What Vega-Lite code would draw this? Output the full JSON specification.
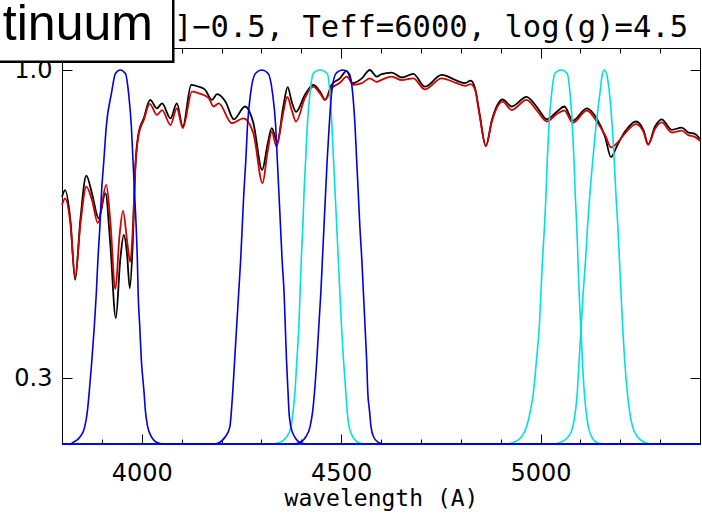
{
  "$schema": "https://vega.github.io/schema/vega-lite/v6.json",
  "autosize": {"type": "none"},
  "width": 638,
  "height": 396,
  "padding": {"left": 62, "top": 48, "right": 2, "bottom": 71},
  "background": "white",
  "config": {
    "view": {"stroke": "#000000", "strokeWidth": 1},
    "axis": {"grid": false, "domain": false, "tickColor": "#000000", "tickWidth": 1, "labelColor": "#000000", "titleColor": "#000000", "labelFont": "DejaVu Sans", "titleFont": "DejaVu Sans Mono", "titleFontWeight": "normal", "labelOverlap": false, "labelFlush": false}
  },
  "datasets": {
    "spec": [
      {"s":"a","wl":3800,"f":0.712},{"s":"a","wl":3808,"f":0.727},{"s":"a","wl":3821,"f":0.659},{"s":"a","wl":3833,"f":0.523},{"s":"a","wl":3846,"f":0.659},{"s":"a","wl":3861,"f":0.760},{"s":"a","wl":3875,"f":0.720},{"s":"a","wl":3892,"f":0.663},{"s":"a","wl":3909,"f":0.720},{"s":"a","wl":3921,"f":0.606},{"s":"a","wl":3935,"f":0.436},{"s":"a","wl":3946,"f":0.568},{"s":"a","wl":3955,"f":0.625},{"s":"a","wl":3963,"f":0.583},{"s":"a","wl":3970,"f":0.504},{"s":"a","wl":3977,"f":0.598},{"s":"a","wl":3984,"f":0.780},{"s":"a","wl":3992,"f":0.856},{"s":"a","wl":4005,"f":0.890},{"s":"a","wl":4021,"f":0.932},{"s":"a","wl":4038,"f":0.913},{"s":"a","wl":4051,"f":0.924},{"s":"a","wl":4072,"f":0.890},{"s":"a","wl":4088,"f":0.924},{"s":"a","wl":4103,"f":0.871},{"s":"a","wl":4124,"f":0.966},{"s":"a","wl":4143,"f":0.962},{"s":"a","wl":4159,"f":0.955},{"s":"a","wl":4176,"f":0.932},{"s":"a","wl":4189,"f":0.945},{"s":"a","wl":4210,"f":0.928},{"s":"a","wl":4231,"f":0.888},{"s":"a","wl":4259,"f":0.917},{"s":"a","wl":4280,"f":0.879},{"s":"a","wl":4302,"f":0.773},{"s":"a","wl":4316,"f":0.833},{"s":"a","wl":4326,"f":0.868},{"s":"a","wl":4340,"f":0.837},{"s":"a","wl":4355,"f":0.917},{"s":"a","wl":4366,"f":0.961},{"s":"a","wl":4376,"f":0.928},{"s":"a","wl":4387,"f":0.905},{"s":"a","wl":4409,"f":0.943},{"s":"a","wl":4430,"f":0.966},{"s":"a","wl":4447,"f":0.951},{"s":"a","wl":4460,"f":0.933},{"s":"a","wl":4476,"f":0.966},{"s":"a","wl":4497,"f":0.981},{"s":"a","wl":4514,"f":0.998},{"s":"a","wl":4529,"f":0.970},{"s":"a","wl":4552,"f":0.981},{"s":"a","wl":4572,"f":1.0},{"s":"a","wl":4589,"f":0.985},{"s":"a","wl":4600,"f":0.990},{"s":"a","wl":4627,"f":0.994},{"s":"a","wl":4652,"f":0.983},{"s":"a","wl":4681,"f":0.991},{"s":"a","wl":4710,"f":0.962},{"s":"a","wl":4752,"f":0.989},{"s":"a","wl":4790,"f":0.976},{"s":"a","wl":4811,"f":0.970},{"s":"a","wl":4825,"f":0.976},{"s":"a","wl":4836,"f":0.958},{"s":"a","wl":4847,"f":0.902},{"s":"a","wl":4863,"f":0.827},{"s":"a","wl":4878,"f":0.886},{"s":"a","wl":4905,"f":0.933},{"s":"a","wl":4928,"f":0.917},{"s":"a","wl":4965,"f":0.939},{"s":"a","wl":4990,"f":0.917},{"s":"a","wl":5016,"f":0.888},{"s":"a","wl":5041,"f":0.905},{"s":"a","wl":5060,"f":0.917},{"s":"a","wl":5081,"f":0.885},{"s":"a","wl":5116,"f":0.913},{"s":"a","wl":5141,"f":0.890},{"s":"a","wl":5162,"f":0.848},{"s":"a","wl":5177,"f":0.802},{"s":"a","wl":5191,"f":0.826},{"s":"a","wl":5212,"f":0.860},{"s":"a","wl":5239,"f":0.883},{"s":"a","wl":5258,"f":0.864},{"s":"a","wl":5270,"f":0.831},{"s":"a","wl":5287,"f":0.871},{"s":"a","wl":5304,"f":0.888},{"s":"a","wl":5329,"f":0.864},{"s":"a","wl":5354,"f":0.869},{"s":"a","wl":5371,"f":0.858},{"s":"a","wl":5387,"f":0.855},{"s":"a","wl":5400,"f":0.843},
      {"s":"b","wl":3800,"f":0.693},{"s":"b","wl":3808,"f":0.708},{"s":"b","wl":3821,"f":0.652},{"s":"b","wl":3833,"f":0.530},{"s":"b","wl":3846,"f":0.648},{"s":"b","wl":3861,"f":0.735},{"s":"b","wl":3875,"f":0.705},{"s":"b","wl":3890,"f":0.652},{"s":"b","wl":3911,"f":0.739},{"s":"b","wl":3921,"f":0.659},{"s":"b","wl":3934,"f":0.502},{"s":"b","wl":3944,"f":0.621},{"s":"b","wl":3953,"f":0.680},{"s":"b","wl":3963,"f":0.614},{"s":"b","wl":3971,"f":0.564},{"s":"b","wl":3977,"f":0.629},{"s":"b","wl":3984,"f":0.780},{"s":"b","wl":3992,"f":0.852},{"s":"b","wl":4005,"f":0.886},{"s":"b","wl":4020,"f":0.923},{"s":"b","wl":4038,"f":0.898},{"s":"b","wl":4051,"f":0.909},{"s":"b","wl":4072,"f":0.875},{"s":"b","wl":4088,"f":0.913},{"s":"b","wl":4103,"f":0.868},{"s":"b","wl":4126,"f":0.951},{"s":"b","wl":4143,"f":0.947},{"s":"b","wl":4168,"f":0.936},{"s":"b","wl":4180,"f":0.917},{"s":"b","wl":4193,"f":0.924},{"s":"b","wl":4226,"f":0.879},{"s":"b","wl":4255,"f":0.890},{"s":"b","wl":4280,"f":0.856},{"s":"b","wl":4303,"f":0.743},{"s":"b","wl":4315,"f":0.811},{"s":"b","wl":4326,"f":0.860},{"s":"b","wl":4338,"f":0.826},{"s":"b","wl":4353,"f":0.894},{"s":"b","wl":4365,"f":0.939},{"s":"b","wl":4376,"f":0.909},{"s":"b","wl":4387,"f":0.883},{"s":"b","wl":4409,"f":0.936},{"s":"b","wl":4430,"f":0.962},{"s":"b","wl":4447,"f":0.947},{"s":"b","wl":4460,"f":0.932},{"s":"b","wl":4476,"f":0.958},{"s":"b","wl":4497,"f":0.971},{"s":"b","wl":4514,"f":0.985},{"s":"b","wl":4531,"f":0.966},{"s":"b","wl":4552,"f":0.970},{"s":"b","wl":4572,"f":0.981},{"s":"b","wl":4589,"f":0.973},{"s":"b","wl":4600,"f":0.977},{"s":"b","wl":4627,"f":0.985},{"s":"b","wl":4652,"f":0.977},{"s":"b","wl":4681,"f":0.981},{"s":"b","wl":4710,"f":0.956},{"s":"b","wl":4752,"f":0.981},{"s":"b","wl":4790,"f":0.970},{"s":"b","wl":4811,"f":0.964},{"s":"b","wl":4825,"f":0.968},{"s":"b","wl":4836,"f":0.955},{"s":"b","wl":4847,"f":0.898},{"s":"b","wl":4863,"f":0.827},{"s":"b","wl":4878,"f":0.883},{"s":"b","wl":4905,"f":0.928},{"s":"b","wl":4928,"f":0.909},{"s":"b","wl":4965,"f":0.932},{"s":"b","wl":4990,"f":0.909},{"s":"b","wl":5016,"f":0.883},{"s":"b","wl":5041,"f":0.900},{"s":"b","wl":5060,"f":0.908},{"s":"b","wl":5081,"f":0.880},{"s":"b","wl":5116,"f":0.908},{"s":"b","wl":5141,"f":0.883},{"s":"b","wl":5162,"f":0.852},{"s":"b","wl":5177,"f":0.824},{"s":"b","wl":5191,"f":0.833},{"s":"b","wl":5212,"f":0.856},{"s":"b","wl":5239,"f":0.877},{"s":"b","wl":5258,"f":0.860},{"s":"b","wl":5270,"f":0.830},{"s":"b","wl":5287,"f":0.866},{"s":"b","wl":5304,"f":0.881},{"s":"b","wl":5329,"f":0.858},{"s":"b","wl":5354,"f":0.862},{"s":"b","wl":5371,"f":0.852},{"s":"b","wl":5387,"f":0.848},{"s":"b","wl":5400,"f":0.839}
    ],
    "filt": [
      {"b":"b1","k":"blue","wl":3800,"t":0.15},{"b":"b1","k":"blue","wl":3822,"t":0.15},{"b":"b1","k":"blue","wl":3825,"t":0.152},{"b":"b1","k":"blue","wl":3846,"t":0.167},{"b":"b1","k":"blue","wl":3857,"t":0.189},{"b":"b1","k":"blue","wl":3864,"t":0.227},{"b":"b1","k":"blue","wl":3868,"t":0.265},{"b":"b1","k":"blue","wl":3875,"t":0.341},{"b":"b1","k":"blue","wl":3881,"t":0.417},{"b":"b1","k":"blue","wl":3886,"t":0.492},{"b":"b1","k":"blue","wl":3890,"t":0.568},{"b":"b1","k":"blue","wl":3895,"t":0.644},{"b":"b1","k":"blue","wl":3899,"t":0.720},{"b":"b1","k":"blue","wl":3905,"t":0.795},{"b":"b1","k":"blue","wl":3911,"t":0.871},{"b":"b1","k":"blue","wl":3924,"t":0.947},{"b":"b1","k":"blue","wl":3934,"t":0.992},{"b":"b1","k":"blue","wl":3946,"t":1.0},{"b":"b1","k":"blue","wl":3959,"t":0.992},{"b":"b1","k":"blue","wl":3967,"t":0.947},{"b":"b1","k":"blue","wl":3974,"t":0.871},{"b":"b1","k":"blue","wl":3978,"t":0.795},{"b":"b1","k":"blue","wl":3982,"t":0.720},{"b":"b1","k":"blue","wl":3986,"t":0.644},{"b":"b1","k":"blue","wl":3989,"t":0.568},{"b":"b1","k":"blue","wl":3991,"t":0.492},{"b":"b1","k":"blue","wl":3995,"t":0.417},{"b":"b1","k":"blue","wl":3999,"t":0.341},{"b":"b1","k":"blue","wl":4006,"t":0.265},{"b":"b1","k":"blue","wl":4009,"t":0.227},{"b":"b1","k":"blue","wl":4015,"t":0.189},{"b":"b1","k":"blue","wl":4024,"t":0.167},{"b":"b1","k":"blue","wl":4042,"t":0.152},{"b":"b1","k":"blue","wl":4055,"t":0.15},{"b":"b1","k":"blue","wl":5400,"t":0.15},
      {"b":"b2","k":"blue","wl":3800,"t":0.15},{"b":"b2","k":"blue","wl":4180,"t":0.15},{"b":"b2","k":"blue","wl":4191,"t":0.152},{"b":"b2","k":"blue","wl":4210,"t":0.167},{"b":"b2","k":"blue","wl":4221,"t":0.189},{"b":"b2","k":"blue","wl":4225,"t":0.227},{"b":"b2","k":"blue","wl":4228,"t":0.265},{"b":"b2","k":"blue","wl":4233,"t":0.341},{"b":"b2","k":"blue","wl":4238,"t":0.417},{"b":"b2","k":"blue","wl":4243,"t":0.492},{"b":"b2","k":"blue","wl":4248,"t":0.568},{"b":"b2","k":"blue","wl":4252,"t":0.644},{"b":"b2","k":"blue","wl":4256,"t":0.720},{"b":"b2","k":"blue","wl":4261,"t":0.795},{"b":"b2","k":"blue","wl":4265,"t":0.871},{"b":"b2","k":"blue","wl":4273,"t":0.947},{"b":"b2","k":"blue","wl":4285,"t":0.992},{"b":"b2","k":"blue","wl":4301,"t":1.0},{"b":"b2","k":"blue","wl":4317,"t":0.992},{"b":"b2","k":"blue","wl":4328,"t":0.947},{"b":"b2","k":"blue","wl":4336,"t":0.871},{"b":"b2","k":"blue","wl":4340,"t":0.795},{"b":"b2","k":"blue","wl":4344,"t":0.720},{"b":"b2","k":"blue","wl":4348,"t":0.644},{"b":"b2","k":"blue","wl":4352,"t":0.568},{"b":"b2","k":"blue","wl":4357,"t":0.492},{"b":"b2","k":"blue","wl":4360,"t":0.417},{"b":"b2","k":"blue","wl":4363,"t":0.341},{"b":"b2","k":"blue","wl":4367,"t":0.265},{"b":"b2","k":"blue","wl":4369,"t":0.227},{"b":"b2","k":"blue","wl":4374,"t":0.189},{"b":"b2","k":"blue","wl":4383,"t":0.167},{"b":"b2","k":"blue","wl":4401,"t":0.152},{"b":"b2","k":"blue","wl":4415,"t":0.15},{"b":"b2","k":"blue","wl":5400,"t":0.15},
      {"b":"b3","k":"blue","wl":3800,"t":0.15},{"b":"b3","k":"blue","wl":4380,"t":0.15},{"b":"b3","k":"blue","wl":4393,"t":0.152},{"b":"b3","k":"blue","wl":4412,"t":0.167},{"b":"b3","k":"blue","wl":4422,"t":0.189},{"b":"b3","k":"blue","wl":4429,"t":0.227},{"b":"b3","k":"blue","wl":4433,"t":0.265},{"b":"b3","k":"blue","wl":4439,"t":0.341},{"b":"b3","k":"blue","wl":4444,"t":0.417},{"b":"b3","k":"blue","wl":4449,"t":0.492},{"b":"b3","k":"blue","wl":4453,"t":0.568},{"b":"b3","k":"blue","wl":4457,"t":0.644},{"b":"b3","k":"blue","wl":4461,"t":0.720},{"b":"b3","k":"blue","wl":4465,"t":0.795},{"b":"b3","k":"blue","wl":4470,"t":0.871},{"b":"b3","k":"blue","wl":4476,"t":0.947},{"b":"b3","k":"blue","wl":4487,"t":0.992},{"b":"b3","k":"blue","wl":4504,"t":1.0},{"b":"b3","k":"blue","wl":4520,"t":0.992},{"b":"b3","k":"blue","wl":4529,"t":0.947},{"b":"b3","k":"blue","wl":4535,"t":0.871},{"b":"b3","k":"blue","wl":4539,"t":0.795},{"b":"b3","k":"blue","wl":4543,"t":0.720},{"b":"b3","k":"blue","wl":4547,"t":0.644},{"b":"b3","k":"blue","wl":4552,"t":0.568},{"b":"b3","k":"blue","wl":4556,"t":0.492},{"b":"b3","k":"blue","wl":4560,"t":0.417},{"b":"b3","k":"blue","wl":4564,"t":0.341},{"b":"b3","k":"blue","wl":4567,"t":0.265},{"b":"b3","k":"blue","wl":4571,"t":0.227},{"b":"b3","k":"blue","wl":4575,"t":0.189},{"b":"b3","k":"blue","wl":4581,"t":0.167},{"b":"b3","k":"blue","wl":4597,"t":0.152},{"b":"b3","k":"blue","wl":4610,"t":0.15},{"b":"b3","k":"blue","wl":5400,"t":0.15},
      {"b":"c2","k":"cyan","wl":3800,"t":0.15},{"b":"c2","k":"cyan","wl":4330,"t":0.15},{"b":"c2","k":"cyan","wl":4342,"t":0.152},{"b":"c2","k":"cyan","wl":4364,"t":0.167},{"b":"c2","k":"cyan","wl":4374,"t":0.189},{"b":"c2","k":"cyan","wl":4380,"t":0.227},{"b":"c2","k":"cyan","wl":4384,"t":0.265},{"b":"c2","k":"cyan","wl":4389,"t":0.341},{"b":"c2","k":"cyan","wl":4394,"t":0.417},{"b":"c2","k":"cyan","wl":4397,"t":0.492},{"b":"c2","k":"cyan","wl":4400,"t":0.568},{"b":"c2","k":"cyan","wl":4404,"t":0.644},{"b":"c2","k":"cyan","wl":4407,"t":0.720},{"b":"c2","k":"cyan","wl":4411,"t":0.795},{"b":"c2","k":"cyan","wl":4415,"t":0.871},{"b":"c2","k":"cyan","wl":4422,"t":0.947},{"b":"c2","k":"cyan","wl":4430,"t":0.992},{"b":"c2","k":"cyan","wl":4447,"t":1.0},{"b":"c2","k":"cyan","wl":4465,"t":0.992},{"b":"c2","k":"cyan","wl":4472,"t":0.947},{"b":"c2","k":"cyan","wl":4477,"t":0.871},{"b":"c2","k":"cyan","wl":4481,"t":0.795},{"b":"c2","k":"cyan","wl":4485,"t":0.720},{"b":"c2","k":"cyan","wl":4489,"t":0.644},{"b":"c2","k":"cyan","wl":4493,"t":0.568},{"b":"c2","k":"cyan","wl":4497,"t":0.492},{"b":"c2","k":"cyan","wl":4501,"t":0.417},{"b":"c2","k":"cyan","wl":4506,"t":0.341},{"b":"c2","k":"cyan","wl":4512,"t":0.265},{"b":"c2","k":"cyan","wl":4515,"t":0.227},{"b":"c2","k":"cyan","wl":4520,"t":0.189},{"b":"c2","k":"cyan","wl":4529,"t":0.167},{"b":"c2","k":"cyan","wl":4547,"t":0.152},{"b":"c2","k":"cyan","wl":4560,"t":0.15},{"b":"c2","k":"cyan","wl":5400,"t":0.15},
      {"b":"c3","k":"cyan","wl":3800,"t":0.15},{"b":"c3","k":"cyan","wl":4915,"t":0.15},{"b":"c3","k":"cyan","wl":4928,"t":0.152},{"b":"c3","k":"cyan","wl":4953,"t":0.167},{"b":"c3","k":"cyan","wl":4965,"t":0.189},{"b":"c3","k":"cyan","wl":4975,"t":0.227},{"b":"c3","k":"cyan","wl":4982,"t":0.265},{"b":"c3","k":"cyan","wl":4990,"t":0.341},{"b":"c3","k":"cyan","wl":4997,"t":0.417},{"b":"c3","k":"cyan","wl":5001,"t":0.492},{"b":"c3","k":"cyan","wl":5005,"t":0.568},{"b":"c3","k":"cyan","wl":5010,"t":0.644},{"b":"c3","k":"cyan","wl":5014,"t":0.720},{"b":"c3","k":"cyan","wl":5017,"t":0.795},{"b":"c3","k":"cyan","wl":5021,"t":0.871},{"b":"c3","k":"cyan","wl":5028,"t":0.947},{"b":"c3","k":"cyan","wl":5036,"t":0.992},{"b":"c3","k":"cyan","wl":5051,"t":1.0},{"b":"c3","k":"cyan","wl":5067,"t":0.992},{"b":"c3","k":"cyan","wl":5074,"t":0.947},{"b":"c3","k":"cyan","wl":5080,"t":0.871},{"b":"c3","k":"cyan","wl":5084,"t":0.795},{"b":"c3","k":"cyan","wl":5087,"t":0.720},{"b":"c3","k":"cyan","wl":5091,"t":0.644},{"b":"c3","k":"cyan","wl":5094,"t":0.568},{"b":"c3","k":"cyan","wl":5097,"t":0.492},{"b":"c3","k":"cyan","wl":5101,"t":0.417},{"b":"c3","k":"cyan","wl":5105,"t":0.341},{"b":"c3","k":"cyan","wl":5110,"t":0.265},{"b":"c3","k":"cyan","wl":5114,"t":0.227},{"b":"c3","k":"cyan","wl":5120,"t":0.189},{"b":"c3","k":"cyan","wl":5128,"t":0.167},{"b":"c3","k":"cyan","wl":5145,"t":0.152},{"b":"c3","k":"cyan","wl":5158,"t":0.15},{"b":"c3","k":"cyan","wl":5400,"t":0.15},
      {"b":"c4","k":"cyan","wl":3800,"t":0.15},{"b":"c4","k":"cyan","wl":5032,"t":0.15},{"b":"c4","k":"cyan","wl":5045,"t":0.152},{"b":"c4","k":"cyan","wl":5070,"t":0.167},{"b":"c4","k":"cyan","wl":5081,"t":0.189},{"b":"c4","k":"cyan","wl":5088,"t":0.227},{"b":"c4","k":"cyan","wl":5092,"t":0.265},{"b":"c4","k":"cyan","wl":5097,"t":0.341},{"b":"c4","k":"cyan","wl":5102,"t":0.417},{"b":"c4","k":"cyan","wl":5107,"t":0.492},{"b":"c4","k":"cyan","wl":5113,"t":0.568},{"b":"c4","k":"cyan","wl":5118,"t":0.644},{"b":"c4","k":"cyan","wl":5124,"t":0.720},{"b":"c4","k":"cyan","wl":5131,"t":0.795},{"b":"c4","k":"cyan","wl":5139,"t":0.871},{"b":"c4","k":"cyan","wl":5149,"t":0.947},{"b":"c4","k":"cyan","wl":5155,"t":0.99},{"b":"c4","k":"cyan","wl":5160,"t":1.0},{"b":"c4","k":"cyan","wl":5166,"t":0.99},{"b":"c4","k":"cyan","wl":5173,"t":0.947},{"b":"c4","k":"cyan","wl":5180,"t":0.871},{"b":"c4","k":"cyan","wl":5185,"t":0.795},{"b":"c4","k":"cyan","wl":5189,"t":0.720},{"b":"c4","k":"cyan","wl":5194,"t":0.644},{"b":"c4","k":"cyan","wl":5198,"t":0.568},{"b":"c4","k":"cyan","wl":5202,"t":0.492},{"b":"c4","k":"cyan","wl":5206,"t":0.417},{"b":"c4","k":"cyan","wl":5211,"t":0.341},{"b":"c4","k":"cyan","wl":5218,"t":0.265},{"b":"c4","k":"cyan","wl":5223,"t":0.227},{"b":"c4","k":"cyan","wl":5231,"t":0.189},{"b":"c4","k":"cyan","wl":5243,"t":0.167},{"b":"c4","k":"cyan","wl":5266,"t":0.152},{"b":"c4","k":"cyan","wl":5280,"t":0.15},{"b":"c4","k":"cyan","wl":5400,"t":0.15}
    ]
  },
  "resolve": {"axis": {"x": "independent", "y": "independent"}},
  "layer": [
    {
      "data": {"name": "spec"},
      "transform": [{"filter": "datum.s === 'a'"}],
      "mark": {"type": "line", "interpolate": "monotone", "color": "#000000", "strokeWidth": 1.8},
      "encoding": {
        "x": {"field": "wl", "type": "quantitative", "scale": {"domain": [3800, 5400], "nice": false, "zero": false},
          "axis": {"orient": "bottom", "values": [3800,3900,4000,4100,4200,4300,4400,4500,4600,4700,4800,4900,5000,5100,5200,5300,5400],
            "tickSize": {"condition": {"test": "datum.value % 500 === 0", "value": -10}, "value": -5},
            "labelExpr": "datum.value % 500 === 0 ? format(datum.value, 'd') : ''",
            "labelFontSize": 24, "labelPadding": 27, "title": "wavelength (A)", "titleFontSize": 23, "titlePadding": -3}},
        "y": {"field": "f", "type": "quantitative", "scale": {"domain": [0.15, 1.05], "nice": false, "zero": false},
          "axis": {"orient": "left", "values": [0.3, 1.0], "format": ".1f", "tickSize": -10, "labelFontSize": 24, "labelPadding": 20, "title": null}}
      }
    },
    {
      "data": {"name": "spec"},
      "transform": [{"filter": "datum.s === 'b'"}],
      "mark": {"type": "line", "interpolate": "monotone", "color": "#d20000", "strokeWidth": 1.8},
      "encoding": {
        "x": {"field": "wl", "type": "quantitative",
          "axis": {"orient": "top", "values": [3800,3900,4000,4100,4200,4300,4400,4500,4600,4700,4800,4900,5000,5100,5200,5300,5400],
            "tickSize": {"condition": {"test": "datum.value % 500 === 0", "value": -10}, "value": -5},
            "labels": false, "title": null}},
        "y": {"field": "f", "type": "quantitative",
          "axis": {"orient": "right", "values": [0.3, 1.0], "tickSize": -10, "labels": false, "title": null}}
      }
    },
    {
      "data": {"name": "filt"},
      "transform": [{"filter": "datum.k === 'cyan'"}],
      "mark": {"type": "line", "interpolate": "monotone", "color": "#00e0e0", "strokeWidth": 1.6},
      "encoding": {
        "x": {"field": "wl", "type": "quantitative", "axis": null},
        "y": {"field": "t", "type": "quantitative", "axis": null},
        "detail": {"field": "b", "type": "nominal"}
      }
    },
    {
      "data": {"name": "filt"},
      "transform": [{"filter": "datum.k === 'blue'"}],
      "mark": {"type": "line", "interpolate": "monotone", "color": "#0000e0", "strokeWidth": 1.6},
      "encoding": {
        "x": {"field": "wl", "type": "quantitative", "axis": null},
        "y": {"field": "t", "type": "quantitative", "axis": null},
        "detail": {"field": "b", "type": "nominal"}
      }
    },
    {
      "data": {"values": [{}]},
      "mark": {"type": "text", "text": "[Fe/H]−0.5, Teff=6000, log(g)=4.5", "font": "DejaVu Sans Mono", "fontSize": 30.5, "align": "right", "baseline": "alphabetic", "color": "#000000", "clip": false},
      "encoding": {
        "x": {"datum": 5370, "type": "quantitative", "axis": null},
        "y": {"datum": 1.075, "type": "quantitative", "axis": null}
      }
    },
    {
      "data": {"values": [{}]},
      "mark": {"type": "rect", "fill": "#ffffff", "stroke": "#000000", "strokeWidth": 2.5, "clip": false},
      "encoding": {
        "x": {"datum": 3620, "type": "quantitative", "axis": null},
        "x2": {"datum": 4079},
        "y": {"datum": 1.019, "type": "quantitative", "axis": null},
        "y2": {"datum": 1.19}
      }
    },
    {
      "data": {"values": [{}]},
      "mark": {"type": "text", "text": "Continuum", "font": "Liberation Sans", "fontSize": 50, "align": "right", "baseline": "alphabetic", "color": "#000000", "clip": false},
      "encoding": {
        "x": {"datum": 4028, "type": "quantitative", "axis": null},
        "y": {"datum": 1.068, "type": "quantitative", "axis": null}
      }
    }
  ]
}
